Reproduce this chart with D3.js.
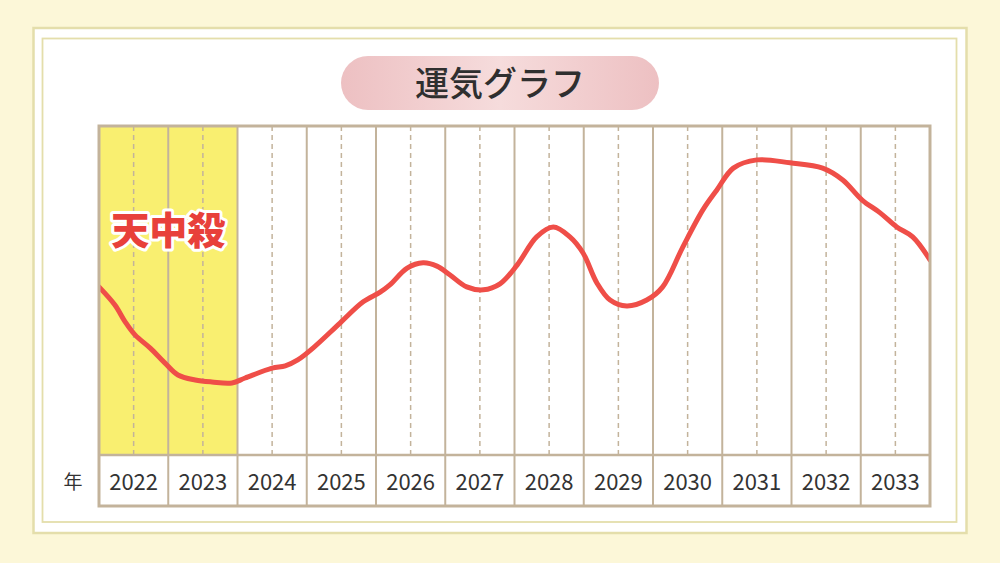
<!DOCTYPE html>
<html><head><meta charset="utf-8">
<script src="https://cdn.jsdelivr.net/npm/d3@7"></script>
<style>html,body{margin:0;padding:0;background:#fcf7d8;}svg{display:block;}</style>
</head><body>
<svg id="c" width="1000" height="563"></svg>
<script>
// ---- data ----
const years = ["2022","2023","2024","2025","2026","2027","2028","2029","2030","2031","2032","2033"];
const tenchusatsuYears = ["2022","2023"];
const curveTime = [0.0,0.23,0.38,0.52,0.74,0.95,1.14,1.39,1.63,1.92,2.11,2.5,2.69,2.87,3.09,3.48,3.81,4.06,4.2,4.45,4.68,4.88,5.07,5.31,5.55,5.79,6.04,6.32,6.56,6.8,6.99,7.19,7.38,7.62,7.91,8.14,8.43,8.72,8.92,9.16,9.5,9.98,10.45,10.74,11.02,11.28,11.52,11.75,12.0];
const fortune = [51.1,45.6,40.4,36.5,32.5,28.0,24.3,22.8,22.2,21.9,23.4,26.4,27.1,28.9,32.5,40.1,46.5,49.5,51.7,56.8,58.4,57.4,54.7,51.1,50.2,52.0,57.8,66.3,69.3,66.3,61.4,52.3,47.1,45.3,47.1,51.1,63.2,74.5,80.5,87.2,89.7,88.8,87.2,83.6,77.5,73.6,69.3,66.3,59.3];
const titleText = "運気グラフ";
const yearUnitLabel = "年";
const bandLabel = "天中殺";

// ---- layout ----
const svg = d3.select("#c");
const L = 99, R = 930, T = 126, B = 455, AX = 506;

svg.append("rect").attr("width",1000).attr("height",563).attr("fill","#fcf7d8");
svg.append("rect").attr("x",33.5).attr("y",28).attr("width",933).attr("height",505)
  .attr("fill","#fff").attr("stroke","#e4deab").attr("stroke-width",2.5);
svg.append("rect").attr("x",42.5).attr("y",38.5).attr("width",914).attr("height",483.5)
  .attr("fill","none").attr("stroke","#e4deab").attr("stroke-width",1.8);

// title pill
const defs = svg.append("defs");
const g1 = defs.append("linearGradient").attr("id","pill").attr("x1","0").attr("x2","1");
g1.append("stop").attr("offset","0").attr("stop-color","#edc0c2");
g1.append("stop").attr("offset","0.5").attr("stop-color","#f6dcdc");
g1.append("stop").attr("offset","1").attr("stop-color","#edc0c2");
svg.append("rect").attr("x",341).attr("y",56).attr("width",318).attr("height",54).attr("rx",27)
  .attr("fill","url(#pill)");
svg.append("text").attr("x",500).attr("y",96).attr("text-anchor","middle")
  .attr("font-family","'Noto Sans CJK JP'").attr("font-weight",500).attr("font-size",34)
  .attr("fill","#2f2f2f").text(titleText);

// scales
const x = d3.scaleBand().domain(years).range([L,R]).paddingInner(0).paddingOuter(0);
const xt = d3.scaleLinear().domain([0, years.length]).range([L,R]);
const y = d3.scaleLinear().domain([0,100]).range([B,T]);

// yellow band
svg.append("g").selectAll("rect").data(tenchusatsuYears).join("rect")
  .attr("x", d=>x(d)).attr("y",T).attr("width",x.bandwidth()).attr("height",B-T)
  .attr("fill","#f9ef70");

// dashed midlines
svg.append("g").selectAll("line").data(years).join("line")
  .attr("x1", d=>x(d)+x.bandwidth()/2).attr("x2", d=>x(d)+x.bandwidth()/2)
  .attr("y1",T).attr("y2",B)
  .attr("stroke","#c3b39b").attr("stroke-width",1.5).attr("stroke-dasharray","5,4");

// solid year separators
svg.append("g").selectAll("line").data(years.slice(1)).join("line")
  .attr("x1", d=>x(d)).attr("x2", d=>x(d)).attr("y1",T).attr("y2",AX)
  .attr("stroke","#c3b39b").attr("stroke-width",2);

// curve
svg.append("clipPath").attr("id","plotclip").append("rect")
  .attr("x",L).attr("y",T).attr("width",R-L).attr("height",B-T);
const pts = curveTime.map((t,i)=>[t,fortune[i]]);
const line = d3.line().x(d=>xt(d[0])).y(d=>y(d[1])).curve(d3.curveCatmullRom.alpha(0.5));
svg.append("path").datum(pts).attr("d",line).attr("fill","none")
  .attr("stroke","#ef4e48").attr("stroke-width",5).attr("stroke-linecap","round")
  .attr("clip-path","url(#plotclip)");

// axis row separator + frame
svg.append("line").attr("x1",L).attr("x2",R).attr("y1",B).attr("y2",B)
  .attr("stroke","#c3b39b").attr("stroke-width",2.5);
svg.append("rect").attr("x",L).attr("y",T).attr("width",R-L).attr("height",AX-T)
  .attr("fill","none").attr("stroke","#c3b39b").attr("stroke-width",3);

// year labels via axis
const axis = d3.axisBottom(x).tickSize(0).tickPadding(0);
const ag = svg.append("g").attr("transform",`translate(0,${B})`).call(axis);
ag.select(".domain").remove();
ag.selectAll("text").attr("y",35).attr("dy",0)
  .attr("font-family","'Noto Sans CJK JP'").attr("font-size",22).attr("fill","#333");

svg.append("text").attr("x",73).attr("y",489).attr("text-anchor","middle")
  .attr("font-family","'Noto Sans CJK JP'").attr("font-size",19).attr("fill","#333").text(yearUnitLabel);

// band label
svg.append("text").attr("x",x("2022")+x.bandwidth()).attr("y",244).attr("text-anchor","middle")
  .attr("font-family","'Noto Sans CJK JP'").attr("font-weight",900).attr("font-size",38)
  .attr("fill","#e8403a").attr("stroke","#fff").attr("stroke-width",6)
  .attr("stroke-linejoin","round").attr("paint-order","stroke").text(bandLabel);
</script>
</body></html>
